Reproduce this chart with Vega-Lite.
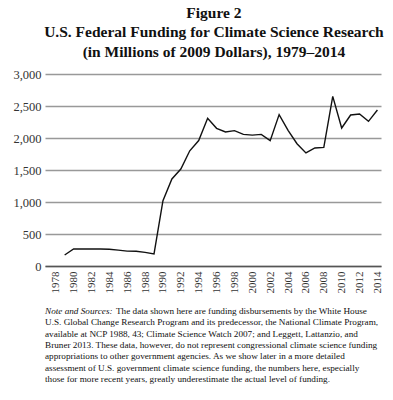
{
  "$schema": "https://vega.github.io/schema/vega-lite/v6.json",
  "padding": {"left": 12, "top": 5, "right": 5, "bottom": 5},
  "background": "white",
  "title": {
    "text": ["Figure 2", "U.S. Federal Funding for Climate Science Research", "(in Millions of 2009 Dollars), 1979–2014"],
    "font": "Liberation Serif",
    "fontSize": 15.5,
    "fontWeight": "bold",
    "lineHeight": 19.5,
    "color": "#111",
    "anchor": "middle",
    "offset": 8
  },
  "spacing": 14,
  "vconcat": [
    {
      "width": 336,
      "height": 192,
      "data": {
        "values": [
          {"year": 1979, "funding": 172},
          {"year": 1980, "funding": 265},
          {"year": 1981, "funding": 265},
          {"year": 1982, "funding": 265},
          {"year": 1983, "funding": 265},
          {"year": 1984, "funding": 262},
          {"year": 1985, "funding": 248},
          {"year": 1986, "funding": 233},
          {"year": 1987, "funding": 230},
          {"year": 1988, "funding": 213},
          {"year": 1989, "funding": 190},
          {"year": 1990, "funding": 1020},
          {"year": 1991, "funding": 1360},
          {"year": 1992, "funding": 1515},
          {"year": 1993, "funding": 1800},
          {"year": 1994, "funding": 1960},
          {"year": 1995, "funding": 2307},
          {"year": 1996, "funding": 2151},
          {"year": 1997, "funding": 2095},
          {"year": 1998, "funding": 2115},
          {"year": 1999, "funding": 2057},
          {"year": 2000, "funding": 2045},
          {"year": 2001, "funding": 2057},
          {"year": 2002, "funding": 1958},
          {"year": 2003, "funding": 2365},
          {"year": 2004, "funding": 2120},
          {"year": 2005, "funding": 1911},
          {"year": 2006, "funding": 1766},
          {"year": 2007, "funding": 1844},
          {"year": 2008, "funding": 1854},
          {"year": 2009, "funding": 2651},
          {"year": 2010, "funding": 2156},
          {"year": 2011, "funding": 2359},
          {"year": 2012, "funding": 2375},
          {"year": 2013, "funding": 2260},
          {"year": 2014, "funding": 2437}
        ]
      },
      "mark": {"type": "line", "color": "#111", "strokeWidth": 1.4},
      "encoding": {
        "x": {
          "field": "year",
          "type": "quantitative",
          "scale": {"domain": [1976.8, 2014.4], "nice": false, "zero": false},
          "axis": {
            "title": null,
            "values": [1978, 1980, 1982, 1984, 1986, 1988, 1990, 1992, 1994, 1996, 1998, 2000, 2002, 2004, 2006, 2008, 2010, 2012, 2014],
            "format": "d",
            "labelAngle": -90,
            "labelAlign": "right",
            "labelBaseline": "middle",
            "labelPadding": 5,
            "ticks": false,
            "grid": false,
            "domainColor": "#555",
            "domainWidth": 1.3,
            "labelFont": "Liberation Serif",
            "labelFontSize": 11,
            "labelColor": "#333",
            "labelOverlap": false,
            "labelFlush": false
          }
        },
        "y": {
          "field": "funding",
          "type": "quantitative",
          "scale": {"domain": [0, 3000], "nice": false},
          "axis": {
            "title": null,
            "values": [0, 500, 1000, 1500, 2000, 2500, 3000],
            "format": ",.0f",
            "domain": false,
            "ticks": false,
            "labelPadding": 4,
            "gridColor": "#999",
            "gridWidth": 1.3,
            "labelFont": "Liberation Serif",
            "labelFontSize": 12.5,
            "labelColor": "#333"
          }
        }
      }
    },
    {
      "width": 370,
      "height": 68,
      "data": {
        "values": [
          {"line": 1, "text": "The data shown here are funding disbursements by the White House"},
          {"line": 2, "text": "U.S. Global Change Research Program and its predecessor, the National Climate Program,"},
          {"line": 3, "text": "available at NCP 1988, 43; Climate Science Watch 2007; and Leggett, Lattanzio, and"},
          {"line": 4, "text": "Bruner 2013. These data, however, do not represent congressional climate science funding"},
          {"line": 5, "text": "appropriations to other government agencies. As we show later in a more detailed"},
          {"line": 6, "text": "assessment of U.S. government climate science funding, the numbers here, especially"},
          {"line": 7, "text": "those for more recent years, greatly underestimate the actual level of funding."}
        ]
      },
      "encoding": {
        "y": {"field": "line", "type": "ordinal", "axis": null, "scale": {"type": "point", "padding": 0}}
      },
      "layer": [
        {
          "transform": [{"filter": "datum.line !== 1"}],
          "mark": {"type": "text", "align": "left", "baseline": "middle", "font": "Liberation Serif", "fontSize": 9.2, "color": "#111"},
          "encoding": {
            "x": {"value": 0},
            "text": {"field": "text"}
          }
        },
        {
          "transform": [{"filter": "datum.line === 1"}],
          "mark": {"type": "text", "align": "left", "baseline": "middle", "font": "Liberation Serif", "fontSize": 9.2, "color": "#111", "dx": 71},
          "encoding": {
            "x": {"value": 0},
            "text": {"field": "text"}
          }
        },
        {
          "transform": [{"filter": "datum.line === 1"}],
          "mark": {"type": "text", "align": "left", "baseline": "middle", "font": "Liberation Serif", "fontSize": 9.2, "fontStyle": "italic", "color": "#111"},
          "encoding": {
            "x": {"value": 0},
            "text": {"value": "Note and Sources:"}
          }
        }
      ]
    }
  ],
  "config": {
    "view": {"stroke": null}
  }
}
